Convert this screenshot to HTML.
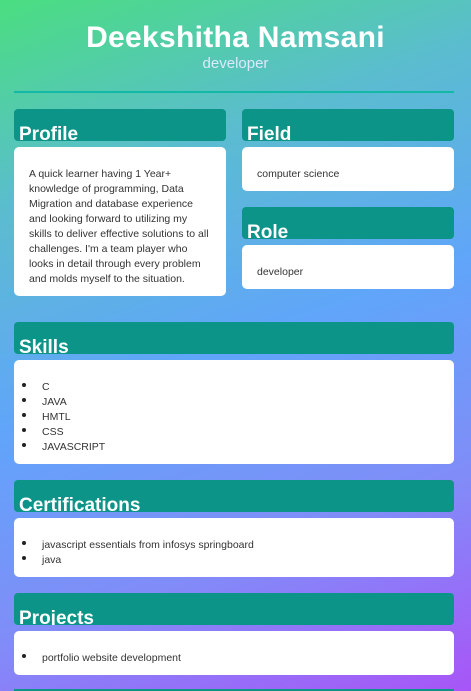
<!DOCTYPE html>
<html style="width:471px;height:691px;overflow:hidden"><head><style>
*{margin:0;padding:0;box-sizing:border-box}
html,body{width:471px;height:691px;overflow:hidden}
body{font-family:"Liberation Sans",sans-serif;background:linear-gradient(160deg,#4ade80 0%,#5bbcd0 25%,#60a5fa 50%,#818cf8 75%,#a855f7 100%) no-repeat;background-size:471px 691px;position:relative}
.a{position:absolute}
h1{position:absolute;top:21px;left:0;width:471px;text-align:center;color:#fff;font-size:30px;font-weight:bold;letter-spacing:0.3px}
.sub{top:55px;left:0;width:471px;text-align:center;color:#dbeafe;font-size:15px}
.line{top:91px;left:14px;width:440px;height:2px;background:#14b8a6}
.h{background:#0d9488;border-radius:4px;height:32px;overflow:hidden;color:#fff;font-weight:bold;font-size:19px}
.h span{position:absolute;left:5px;top:15px}
.b{background:#fff;border-radius:5px;font-size:10.5px;color:#333;line-height:15px}
.b p{position:absolute;left:15px}
ul{position:absolute;left:8px;list-style:none}
li{position:relative;padding-left:20px;height:15px}
li:before{content:"";position:absolute;left:0;top:3px;width:4px;height:4px;border-radius:50%;background:#222}
</style></head><body>
<h1>Deekshitha Namsani</h1>
<div class="a sub">developer</div>
<div class="a line"></div>

<div class="a h" style="left:14px;top:109px;width:212px"><span>Profile</span></div>
<div class="a b" style="left:14px;top:147px;width:212px;height:149px"><p style="top:20px;width:182px">A quick learner having 1 Year+ knowledge of programming, Data Migration and database experience and looking forward to utilizing my skills to deliver effective solutions to all challenges. I'm a team player who looks in detail through every problem and molds myself to the situation.</p></div>

<div class="a h" style="left:242px;top:109px;width:212px"><span>Field</span></div>
<div class="a b" style="left:242px;top:147px;width:212px;height:44px"><p style="top:20px">computer science</p></div>

<div class="a h" style="left:242px;top:207px;width:212px"><span>Role</span></div>
<div class="a b" style="left:242px;top:245px;width:212px;height:44px"><p style="top:20px">developer</p></div>

<div class="a h" style="left:14px;top:322px;width:440px"><span>Skills</span></div>
<div class="a b" style="left:14px;top:360px;width:440px;height:104px"><ul style="top:20px"><li>C</li><li>JAVA</li><li>HMTL</li><li>CSS</li><li>JAVASCRIPT</li></ul></div>

<div class="a h" style="left:14px;top:480px;width:440px"><span>Certifications</span></div>
<div class="a b" style="left:14px;top:518px;width:440px;height:59px"><ul style="top:20px"><li>javascript essentials from infosys springboard</li><li>java</li></ul></div>

<div class="a h" style="left:14px;top:593px;width:440px"><span>Projects</span></div>
<div class="a b" style="left:14px;top:631px;width:440px;height:44px"><ul style="top:20px"><li>portfolio website development</li></ul></div>

<div class="a" style="left:14px;top:689px;width:440px;height:2px;background:#0d9488"></div>
</body></html>
